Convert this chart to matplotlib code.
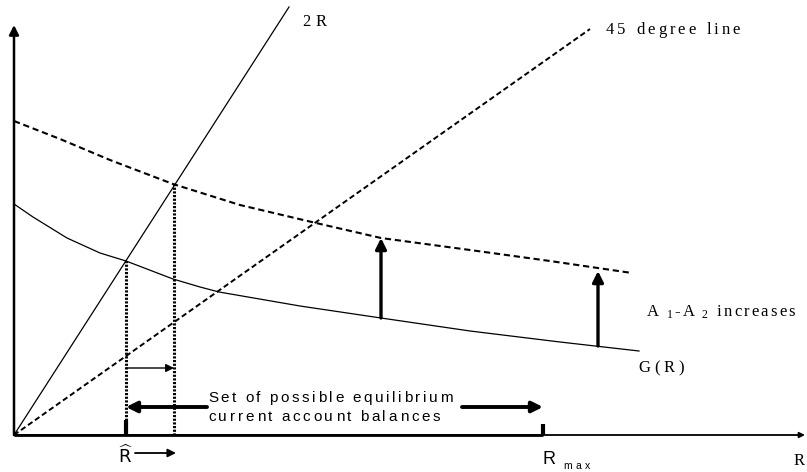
import numpy as np
import matplotlib.pyplot as plt

# Diagram coordinates: origin at the corner of the axes, units ~ pixels
two_r_x = [0, 275]
two_r_y = [0, 428]
line45_x = [0, 576]
line45_y = [0, 406]

upper_x = [0, 46, 96, 159, 226, 302, 367, 456, 536, 618]
upper_y = [314, 296, 275, 251, 230, 212, 197, 185, 174, 162]

lower_x = [0, 19, 53, 86, 112, 159, 186, 205, 286, 367, 456, 546, 625]
lower_y = [231, 218, 197, 182, 174, 156, 148, 143, 129, 117, 104, 93, 84]

r_hat = 112
r_cross = 160
r_max = 529
r_end = 791
y_top = 410

shift_x = [367, 584]
shift_from = [117, 89]
shift_to = [197, 164]

fig = plt.figure(figsize=(8.07, 4.72), dpi=100)
ax = fig.add_axes([0, 0, 1, 1])
ax.set_xlim(-14, 793)
ax.set_ylim(-37, 435)
ax.axis('off')

renderer = fig.canvas.get_renderer()


def spaced(x, y, segments, width, family):
    # draw text char by char so the letter spacing matches the original
    items = []
    for s, size, dy in segments:
        for ch in s:
            t = ax.text(0, 0, ch if ch != ' ' else 'i', fontsize=size, family=family)
            w = t.get_window_extent(renderer).width
            t.remove()
            items.append((ch, size, dy, w))
    total = sum(it[3] for it in items)
    track = (width - total) / max(len(items) - 1, 1)
    cx = x
    for ch, size, dy, w in items:
        if ch != ' ':
            ax.text(cx, y + dy, ch, fontsize=size, family=family,
                    ha='left', va='center')
        cx += w + track


def arrow(x0, y0, x1, y1, lw, scale):
    ax.annotate('', xy=(x1, y1), xytext=(x0, y0),
                arrowprops=dict(arrowstyle='-|>', lw=lw, color='black',
                                mutation_scale=scale, shrinkA=0, shrinkB=0))


# axes
arrow(0, 0, 0, y_top, 1.8, 14)
arrow(0, 0, r_end, 0, 1.3, 8)
ax.plot([0, r_max], [0, 0], color='black', lw=2.0, solid_capstyle='butt')

# lines and curves
ax.plot(two_r_x, two_r_y, color='black', lw=0.9)
ax.plot(line45_x, line45_y, color='black', lw=1.4, linestyle=(0, (2.8, 1.6)))
ax.plot(upper_x, upper_y, color='black', lw=1.5, linestyle=(0, (3, 1.8)))
ax.plot(lower_x, lower_y, color='black', lw=0.9)

# dotted verticals
ax.plot([r_hat, r_hat], [0, lower_y[4]], color='black', lw=2.2, linestyle=(0, (0.7, 0.5)))
ax.plot([r_cross, r_cross], [0, upper_y[3]], color='black', lw=2.2, linestyle=(0, (0.7, 0.5)))

# ticks at R-hat and R-max
ax.plot([r_hat, r_hat], [0, 15], color='black', lw=3, solid_capstyle='butt')
ax.plot([r_max, r_max], [0, 11], color='black', lw=3, solid_capstyle='butt')

# arrows
arrow(r_hat, 67, r_cross, 67, 1.0, 12)
arrow(193, 28, r_hat, 28, 2.8, 16)
arrow(448, 28, r_max, 28, 2.8, 16)
for sx, s0, s1 in zip(shift_x, shift_from, shift_to):
    arrow(sx, s0, sx, s1, 2.4, 16)
arrow(121, -18, 162, -18, 1.3, 12)

# labels
sans = 'Liberation Sans'
serif = 'Liberation Serif'
spaced(194, 37, [('Set of possible equilibrium', 11, 0)], 245, sans)
spaced(194, 18, [('current account balances', 11, 0)], 232, sans)
spaced(288, 413, [('2R', 12, 0)], 25, serif)
spaced(592, 405, [('45 degree line', 12, 0)], 134, serif)
spaced(633, 123, [('A', 12, 0), (' 1', 8.5, -3), ('-A', 12, 0), (' 2', 8.5, -3),
                  (' increases', 12, 0)], 148, serif)
spaced(624, 67, [('G(R)', 12, 0)], 46, serif)
ax.text(780, -26, 'R', fontsize=12, family=serif, ha='left', va='center')
spaced(528, -25, [('R', 13, 0), (' ', 4, 0), ('max', 7.5, -6)], 48, sans)
ax.text(r_hat, -21, r'$\widehat{\mathsf{R}}$', fontsize=13, ha='center', va='center')

fig.savefig('out.png', dpi=100)
